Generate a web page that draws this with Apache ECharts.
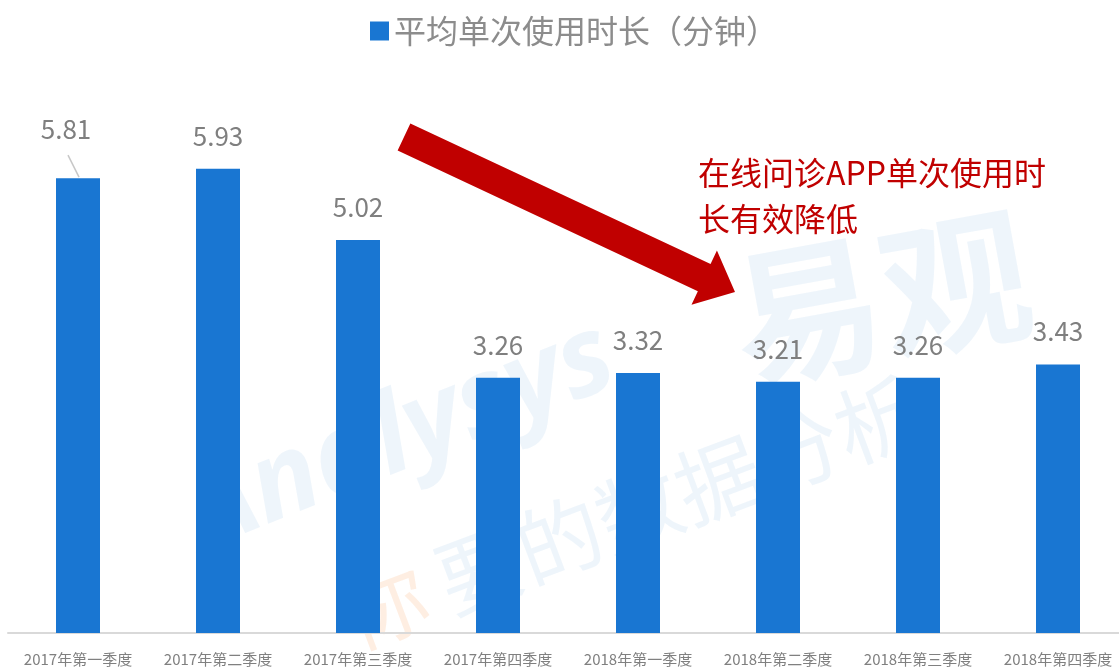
<!DOCTYPE html>
<html>
<head>
<meta charset="utf-8">
<title>平均单次使用时长</title>
<script src="https://cdn.jsdelivr.net/npm/echarts@6/dist/echarts.min.js"></script>
<style>
  html, body { margin: 0; padding: 0; background: #fff; }
  #chart { width: 1119px; height: 669px; }
</style>
</head>
<body>
<div id="chart"></div>
<script>
var categories = ['2017年第一季度', '2017年第二季度', '2017年第三季度', '2017年第四季度',
  '2018年第一季度', '2018年第二季度', '2018年第三季度', '2018年第四季度']
var avgMinutes = [5.81, 5.93, 5.02, 3.26, 3.32, 3.21, 3.26, 3.43]
var seriesName = '平均单次使用时长（分钟）'
var noteText = '在线问诊APP单次使用时\n长有效降低'

var font = '"Noto Sans CJK SC", "Noto Sans", sans-serif'

// 箭头：按起点、终点和宽度算出多边形
function arrowPoints (x1, y1, x2, y2, w, headLen, headW) {
  var dx = x2 - x1, dy = y2 - y1
  var len = Math.sqrt(dx * dx + dy * dy)
  var ux = dx / len, uy = dy / len
  var px = -uy, py = ux
  var bx = x2 - ux * headLen, by = y2 - uy * headLen
  return [
    [x1 + px * w / 2, y1 + py * w / 2],
    [bx + px * w / 2, by + py * w / 2],
    [bx + px * headW, by + py * headW],
    [x2, y2],
    [bx - px * headW, by - py * headW],
    [bx - px * w / 2, by - py * w / 2],
    [x1 - px * w / 2, y1 - py * w / 2]
  ]
}

var wm = 'rgba(210,228,245,0.38)'

var chart = echarts.init(document.getElementById('chart'))
chart.setOption({
  animation: false,
  legend: {
    top: 10,
    left: 365,
    itemWidth: 19,
    itemHeight: 19,
    itemGap: 10,
    icon: 'rect',
    textStyle: { fontSize: 32, color: '#8c8c8c', fontFamily: font }
  },
  grid: {
    left: 8,
    top: 85,
    width: 1120,
    height: 548,
    containLabel: false,
    outerBoundsMode: 'none'
  },
  xAxis: {
    type: 'category',
    data: categories,
    axisTick: { show: false },
    axisLine: { show: true, lineStyle: { color: '#d9d9d9', width: 2 } },
    axisLabel: {
      interval: 0,
      margin: 19,
      fontSize: 15,
      color: '#808080',
      fontFamily: font
    }
  },
  yAxis: {
    type: 'value',
    min: 0,
    max: 7,
    show: false,
    splitLine: { show: false }
  },
  graphic: [
    {
      type: 'text', z: 0, x: 170, y: 470, rotation: 0.38,
      style: { text: 'Analysys', fontSize: 110, fontWeight: 'bold', fontStyle: 'italic', fill: wm, fontFamily: 'Open Sans' }
    },
    {
      type: 'text', z: 0, x: 720, y: 250, rotation: 0.18,
      style: { text: '易观', fontSize: 150, fontWeight: 'bold', fill: wm, fontFamily: font }
    },
    {
      type: 'text', z: 0, x: 330, y: 580, rotation: 0.36,
      style: { text: '你', fontSize: 85, fill: 'rgba(252,218,190,0.45)', fontFamily: font }
    },
    {
      type: 'text', z: 0, x: 425, y: 545, rotation: 0.36,
      style: { text: '要的数据分析', fontSize: 85, fill: wm, fontFamily: font }
    },
    {
      type: 'polygon', z: 100,
      shape: { points: arrowPoints(404, 137, 735, 292, 30, 34, 30) },
      style: { fill: '#c00000' }
    },
    {
      type: 'text', z: 100, x: 698, y: 150,
      style: { text: noteText, fontSize: 32, lineHeight: 46, fill: '#c00000', fontFamily: font }
    }
  ],
  series: [{
    name: seriesName,
    type: 'bar',
    data: avgMinutes,
    barWidth: 44,
    z: 5,
    itemStyle: { color: '#1976d2' },
    label: {
      show: true,
      position: 'top',
      distance: 20,
      fontSize: 26,
      color: '#7f7f7f',
      fontFamily: font
    },
    labelLayout: function (params) {
      if (params.dataIndex === 0) {
        return { dx: -12, dy: -16 }
      }
      return {}
    }
  }]
})

// 第一根柱子标签的斜引导线，位置从坐标轴换算
var top0 = chart.convertToPixel({ seriesIndex: 0 }, [0, avgMinutes[0]])
chart.setOption({
  graphic: [{
    id: 'leader',
    type: 'line',
    z: 100,
    shape: { x1: top0[0] - 10, y1: top0[1] - 23, x2: top0[0] + 1, y2: top0[1] - 1 },
    style: { stroke: '#c8c8c8', lineWidth: 1.5 }
  }]
})
</script>
</body>
</html>
